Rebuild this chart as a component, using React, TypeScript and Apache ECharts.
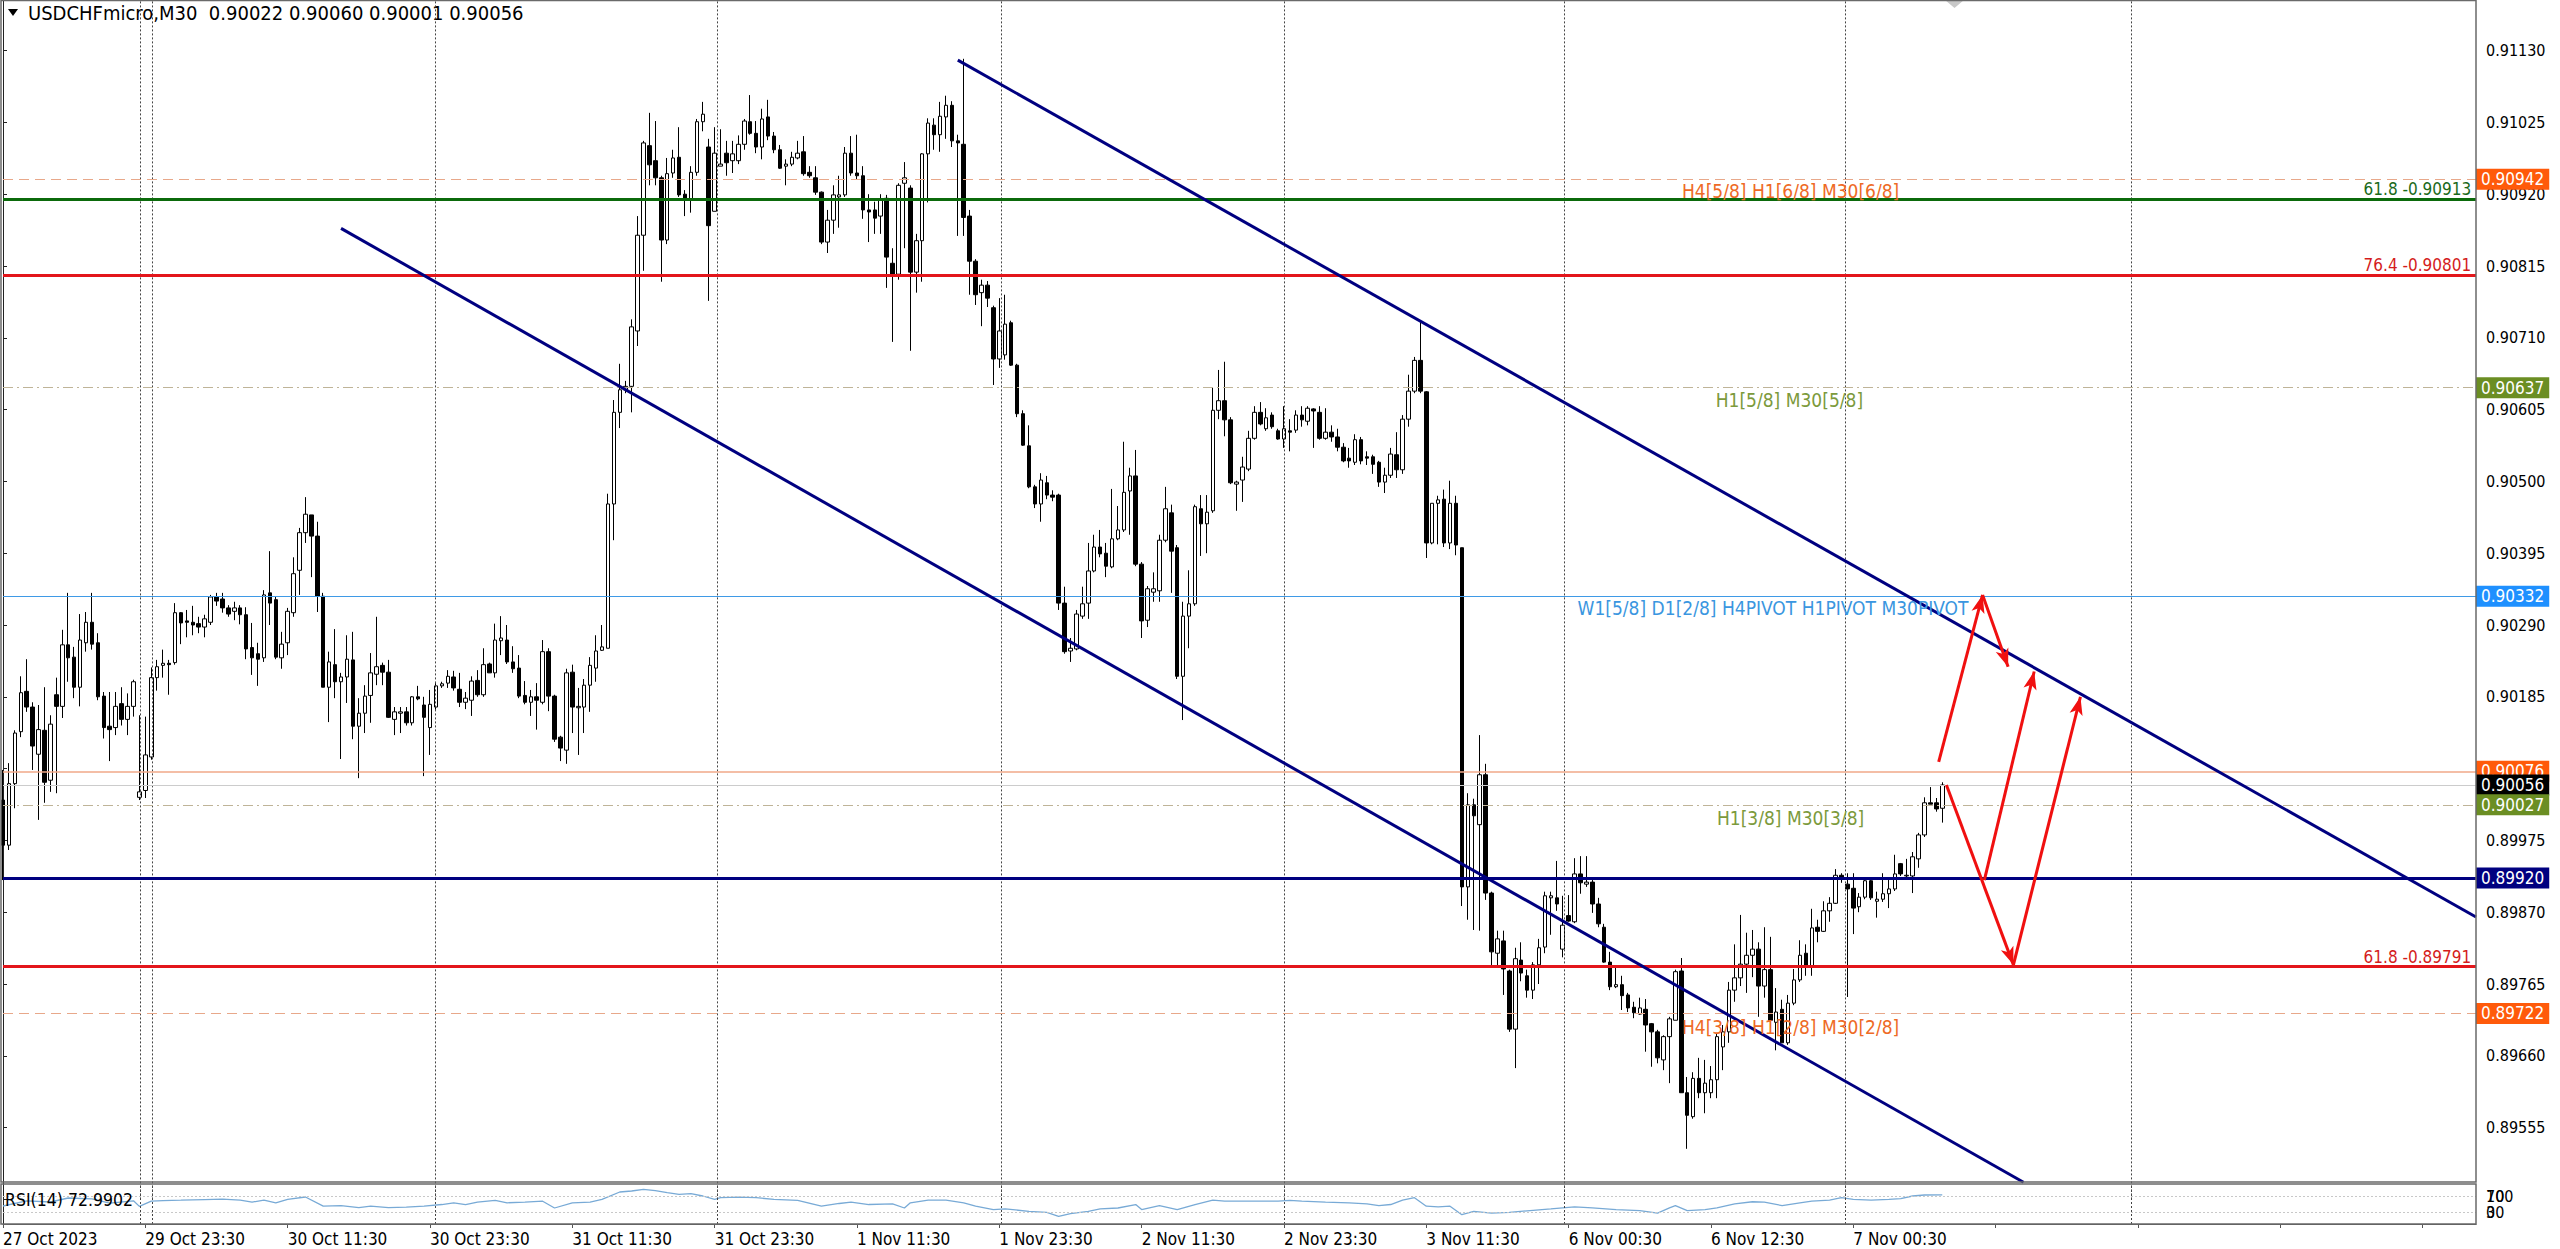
import React, { useEffect, useRef } from 'react';
import * as echarts from 'echarts';

const FONT = "'DejaVu Sans Condensed', 'DejaVu Sans', sans-serif";

// ---------- DATA ----------
const opens = [
0.90034,0.89968,0.90058,0.90134,0.90193,0.90170,0.90101,0.90136,0.90063,0.90188,
0.90171,0.90261,0.90243,0.90199,0.90264,0.90294,0.90264,0.90186,0.90142,0.90140,
0.90175,0.90152,0.90171,0.90038,0.90048,0.90097,0.90213,0.90231,0.90234,0.90235,
0.90308,0.90296,0.90294,0.90292,0.90287,0.90294,0.90331,0.90328,0.90315,0.90310,
0.90315,0.90305,0.90257,0.90248,0.90242,0.90337,0.90327,0.90242,0.90264,0.90308,
0.90370,0.90425,0.90451,0.90420,0.90332,0.90199,0.90232,0.90207,0.90214,0.90239,
0.90142,0.90161,0.90187,0.90218,0.90231,0.90221,0.90152,0.90161,0.90163,0.90147,
0.90185,0.90173,0.90140,0.90170,0.90201,0.90205,0.90214,0.90196,0.90177,0.90180,
0.90209,0.90188,0.90233,0.90220,0.90267,0.90268,0.90236,0.90227,0.90187,0.90177,
0.90185,0.90177,0.90251,0.90186,0.90126,0.90107,0.90221,0.90169,0.90170,0.90202,
0.90227,0.90253,0.90256,0.90467,0.90601,0.90634,0.90639,0.90720,0.90860,0.90991,
0.90969,0.90944,0.90853,0.90951,0.90974,0.90920,0.90912,0.90952,0.91026,0.90989,
0.90895,0.90961,0.90980,0.90969,0.90969,0.90993,0.91026,0.91009,0.90989,0.91033,
0.91005,0.90985,0.90961,0.90964,0.90973,0.90982,0.90952,0.90944,0.90923,0.90850,
0.90882,0.90916,0.90919,0.90980,0.90951,0.90947,0.90897,0.90897,0.90888,0.90914,
0.90819,0.90803,0.90936,0.90929,0.90806,0.90852,0.90979,0.91021,0.91007,0.91033,
0.91050,0.90998,0.90993,0.90888,0.90822,0.90776,0.90787,0.90754,0.90679,0.90685,
0.90732,0.90670,0.90599,0.90552,0.90492,0.90467,0.90498,0.90480,0.90480,0.90322,
0.90252,0.90255,0.90303,0.90322,0.90369,0.90404,0.90395,0.90375,0.90416,0.90429,
0.90486,0.90508,0.90379,0.90297,0.90338,0.90340,0.90414,0.90454,0.90403,0.90215,
0.90303,0.90321,0.90460,0.90438,0.90457,0.90604,0.90618,0.90590,0.90496,0.90502,
0.90518,0.90563,0.90601,0.90577,0.90597,0.90574,0.90562,0.90574,0.90575,0.90597,
0.90588,0.90606,0.90601,0.90563,0.90572,0.90565,0.90550,0.90534,0.90528,0.90561,
0.90536,0.90536,0.90528,0.90499,0.90509,0.90539,0.90517,0.90591,0.90632,0.90677,
0.90631,0.90410,0.90468,0.90474,0.90410,0.90468,0.90403,0.89907,0.90027,0.89998,
0.90071,0.89898,0.89810,0.89828,0.89784,0.89699,0.89800,0.89777,0.89756,0.89793,
0.89819,0.89891,0.89891,0.89816,0.89865,0.89856,0.89926,0.89911,0.89914,0.89882,
0.89848,0.89797,0.89761,0.89764,0.89749,0.89731,0.89721,0.89728,0.89707,0.89695,
0.89654,0.89688,0.89712,0.89784,0.89606,0.89571,0.89627,0.89606,0.89606,0.89625,
0.89673,0.89695,0.89756,0.89774,0.89794,0.89807,0.89816,0.89762,0.89786,0.89709,
0.89728,0.89679,0.89737,0.89771,0.89810,0.89790,0.89848,0.89842,0.89872,0.89883,
0.89924,0.89911,0.89905,0.89878,0.89892,0.89916,0.89886,0.89889,0.89897,0.89904,
0.89941,0.89923,0.89923,0.89948,0.89983,0.90030,0.90030,0.90022];

const highs = [
0.90078,0.90088,0.90136,0.90215,0.90240,0.90177,0.90173,0.90199,0.90158,0.90213,
0.90283,0.90337,0.90258,0.90306,0.90309,0.90337,0.90278,0.90192,0.90192,0.90192,
0.90199,0.90190,0.90210,0.90158,0.90156,0.90228,0.90239,0.90254,0.90239,0.90322,
0.90309,0.90312,0.90318,0.90302,0.90305,0.90334,0.90337,0.90337,0.90319,0.90324,
0.90319,0.90316,0.90293,0.90264,0.90341,0.90398,0.90331,0.90280,0.90315,0.90389,
0.90432,0.90477,0.90451,0.90441,0.90337,0.90251,0.90284,0.90220,0.90275,0.90280,
0.90183,0.90202,0.90249,0.90302,0.90235,0.90239,0.90170,0.90170,0.90170,0.90186,
0.90201,0.90185,0.90195,0.90205,0.90207,0.90224,0.90223,0.90220,0.90192,0.90215,
0.90224,0.90256,0.90235,0.90292,0.90303,0.90290,0.90259,0.90246,0.90208,0.90195,
0.90205,0.90268,0.90256,0.90188,0.90128,0.90226,0.90232,0.90198,0.90211,0.90243,
0.90275,0.90290,0.90482,0.90619,0.90672,0.90647,0.90737,0.90888,0.90998,0.91039,
0.91027,0.90947,0.90973,0.90985,0.91018,0.90926,0.90961,0.91030,0.91055,0.91001,
0.91018,0.91015,0.90998,0.90998,0.91006,0.91030,0.91065,0.91027,0.91045,0.91058,
0.91011,0.90992,0.90971,0.90982,0.90998,0.91005,0.90961,0.90961,0.90924,0.90897,
0.90933,0.90947,0.90989,0.91005,0.91007,0.90961,0.90920,0.90909,0.90920,0.90919,
0.90841,0.90936,0.90967,0.90933,0.90862,0.90980,0.91031,0.91031,0.91055,0.91064,
0.91056,0.91007,0.91118,0.90897,0.90825,0.90795,0.90793,0.90757,0.90768,0.90773,
0.90735,0.90672,0.90604,0.90582,0.90495,0.90512,0.90508,0.90487,0.90482,0.90346,
0.90271,0.90312,0.90346,0.90410,0.90422,0.90429,0.90410,0.90489,0.90464,0.90558,
0.90520,0.90546,0.90382,0.90347,0.90367,0.90422,0.90492,0.90466,0.90407,0.90324,
0.90370,0.90466,0.90480,0.90480,0.90638,0.90663,0.90675,0.90594,0.90501,0.90536,
0.90574,0.90610,0.90616,0.90607,0.90601,0.90577,0.90610,0.90591,0.90604,0.90610,
0.90610,0.90607,0.90610,0.90607,0.90582,0.90577,0.90556,0.90549,0.90569,0.90565,
0.90544,0.90539,0.90530,0.90520,0.90549,0.90572,0.90597,0.90656,0.90682,0.90733,
0.90632,0.90468,0.90479,0.90488,0.90501,0.90479,0.90403,0.90044,0.90036,0.90129,
0.90087,0.89900,0.89843,0.89843,0.89786,0.89818,0.89826,0.89786,0.89797,0.89831,
0.89900,0.89900,0.89945,0.89894,0.89895,0.89949,0.89952,0.89952,0.89917,0.89891,
0.89853,0.89812,0.89790,0.89777,0.89752,0.89739,0.89745,0.89743,0.89708,0.89698,
0.89690,0.89717,0.89786,0.89803,0.89629,0.89636,0.89657,0.89654,0.89645,0.89693,
0.89705,0.89768,0.89823,0.89866,0.89840,0.89844,0.89826,0.89848,0.89834,0.89759,
0.89742,0.89749,0.89787,0.89829,0.89823,0.89875,0.89859,0.89886,0.89892,0.89933,
0.89927,0.89927,0.89927,0.89898,0.89917,0.89919,0.89900,0.89927,0.89920,0.89954,
0.89942,0.89948,0.89958,0.89986,0.90038,0.90053,0.90037,0.90060];

const lows = [
0.89917,0.89961,0.90022,0.90126,0.90163,0.90078,0.90005,0.90030,0.90046,0.90044,
0.90154,0.90207,0.90183,0.90171,0.90251,0.90254,0.90180,0.90124,0.90091,0.90129,
0.90143,0.90129,0.90156,0.90034,0.90037,0.90093,0.90194,0.90213,0.90188,0.90232,
0.90262,0.90272,0.90275,0.90278,0.90272,0.90290,0.90318,0.90308,0.90302,0.90297,
0.90291,0.90240,0.90217,0.90201,0.90236,0.90290,0.90240,0.90226,0.90246,0.90302,
0.90334,0.90410,0.90360,0.90309,0.90199,0.90148,0.90183,0.90094,0.90176,0.90123,
0.90066,0.90132,0.90147,0.90202,0.90202,0.90154,0.90129,0.90132,0.90143,0.90143,
0.90180,0.90069,0.90100,0.90166,0.90198,0.90198,0.90194,0.90170,0.90167,0.90157,
0.90185,0.90185,0.90220,0.90213,0.90246,0.90233,0.90220,0.90183,0.90174,0.90157,
0.90137,0.90174,0.90164,0.90119,0.90091,0.90087,0.90132,0.90100,0.90132,0.90163,
0.90207,0.90252,0.90256,0.90414,0.90578,0.90629,0.90601,0.90698,0.90808,0.90933,
0.90933,0.90792,0.90847,0.90944,0.90916,0.90888,0.90893,0.90947,0.91012,0.90764,
0.90895,0.90961,0.90947,0.90951,0.90964,0.90985,0.91007,0.90980,0.90971,0.90999,
0.90980,0.90957,0.90933,0.90961,0.90971,0.90947,0.90944,0.90919,0.90847,0.90834,
0.90862,0.90871,0.90916,0.90947,0.90941,0.90884,0.90850,0.90862,0.90862,0.90783,
0.90704,0.90795,0.90841,0.90691,0.90776,0.90792,0.90908,0.90985,0.90982,0.91001,
0.90989,0.90859,0.90859,0.90773,0.90758,0.90727,0.90755,0.90641,0.90666,0.90678,
0.90669,0.90594,0.90552,0.90490,0.90461,0.90441,0.90474,0.90471,0.90312,0.90248,
0.90236,0.90253,0.90299,0.90299,0.90367,0.90389,0.90360,0.90373,0.90414,0.90426,
0.90422,0.90376,0.90271,0.90287,0.90324,0.90324,0.90411,0.90337,0.90211,0.90151,
0.90256,0.90318,0.90391,0.90395,0.90454,0.90591,0.90566,0.90496,0.90457,0.90470,
0.90515,0.90561,0.90582,0.90574,0.90577,0.90561,0.90549,0.90544,0.90571,0.90580,
0.90582,0.90549,0.90561,0.90561,0.90558,0.90544,0.90528,0.90520,0.90524,0.90525,
0.90524,0.90511,0.90492,0.90483,0.90505,0.90505,0.90511,0.90580,0.90629,0.90629,
0.90388,0.90408,0.90408,0.90404,0.90401,0.90392,0.89879,0.89859,0.89844,0.89843,
0.89888,0.89791,0.89791,0.89749,0.89695,0.89642,0.89769,0.89745,0.89743,0.89765,
0.89810,0.89837,0.89872,0.89804,0.89856,0.89854,0.89897,0.89907,0.89869,0.89848,
0.89796,0.89756,0.89759,0.89727,0.89724,0.89715,0.89720,0.89666,0.89644,0.89649,
0.89639,0.89620,0.89712,0.89606,0.89524,0.89568,0.89598,0.89576,0.89598,0.89598,
0.89639,0.89679,0.89739,0.89762,0.89752,0.89775,0.89717,0.89745,0.89701,0.89668,
0.89679,0.89676,0.89734,0.89768,0.89777,0.89777,0.89826,0.89841,0.89856,0.89882,
0.89913,0.89746,0.89838,0.89870,0.89889,0.89888,0.89862,0.89885,0.89876,0.89901,
0.89923,0.89919,0.89898,0.89935,0.89980,0.90028,0.90017,0.90001];

const closes = [
0.89968,0.90058,0.90132,0.90191,0.90170,0.90113,0.90137,0.90060,0.90145,0.90171,
0.90261,0.90242,0.90199,0.90268,0.90294,0.90262,0.90185,0.90140,0.90137,0.90171,
0.90152,0.90171,0.90207,0.90046,0.90100,0.90213,0.90229,0.90234,0.90232,0.90308,
0.90293,0.90294,0.90290,0.90287,0.90299,0.90331,0.90325,0.90315,0.90306,0.90315,
0.90305,0.90255,0.90242,0.90240,0.90334,0.90322,0.90243,0.90262,0.90310,0.90365,
0.90425,0.90452,0.90420,0.90332,0.90199,0.90236,0.90207,0.90214,0.90240,0.90142,
0.90161,0.90186,0.90220,0.90229,0.90221,0.90155,0.90163,0.90163,0.90147,0.90185,
0.90182,0.90155,0.90174,0.90201,0.90204,0.90215,0.90198,0.90177,0.90183,0.90208,
0.90188,0.90232,0.90220,0.90268,0.90271,0.90236,0.90226,0.90186,0.90177,0.90185,
0.90180,0.90251,0.90186,0.90123,0.90110,0.90220,0.90170,0.90171,0.90202,0.90231,
0.90252,0.90258,0.90467,0.90601,0.90634,0.90639,0.90726,0.90860,0.90995,0.90963,
0.90944,0.90853,0.90950,0.90973,0.90919,0.90912,0.90952,0.91026,0.91037,0.90874,
0.90980,0.90964,0.90966,0.90979,0.90993,0.91027,0.91009,0.90989,0.91030,0.91005,
0.90985,0.90958,0.90964,0.90974,0.90980,0.90950,0.90947,0.90923,0.90850,0.90882,
0.90919,0.90919,0.90980,0.90951,0.90947,0.90897,0.90894,0.90885,0.90913,0.90828,
0.90803,0.90933,0.90944,0.90806,0.90852,0.90979,0.91024,0.91007,0.91034,0.91050,
0.90998,0.90995,0.90886,0.90822,0.90773,0.90787,0.90768,0.90679,0.90720,0.90730,
0.90670,0.90599,0.90553,0.90492,0.90467,0.90502,0.90480,0.90477,0.90322,0.90251,
0.90256,0.90306,0.90321,0.90369,0.90404,0.90394,0.90376,0.90416,0.90429,0.90484,
0.90508,0.90379,0.90296,0.90343,0.90343,0.90414,0.90460,0.90398,0.90215,0.90303,
0.90321,0.90463,0.90438,0.90455,0.90604,0.90618,0.90590,0.90498,0.90499,0.90521,
0.90563,0.90601,0.90584,0.90593,0.90580,0.90562,0.90577,0.90572,0.90597,0.90590,
0.90607,0.90603,0.90563,0.90572,0.90565,0.90550,0.90530,0.90530,0.90561,0.90530,
0.90534,0.90525,0.90499,0.90509,0.90540,0.90517,0.90591,0.90632,0.90677,0.90632,
0.90410,0.90468,0.90473,0.90410,0.90468,0.90407,0.89907,0.90027,0.90011,0.90071,
0.89898,0.89812,0.89831,0.89787,0.89699,0.89802,0.89781,0.89756,0.89793,0.89818,
0.89894,0.89894,0.89882,0.89851,0.89857,0.89926,0.89913,0.89914,0.89882,0.89853,
0.89797,0.89761,0.89764,0.89748,0.89730,0.89723,0.89730,0.89705,0.89695,0.89657,
0.89688,0.89714,0.89783,0.89606,0.89573,0.89627,0.89606,0.89620,0.89625,0.89688,
0.89695,0.89756,0.89774,0.89794,0.89807,0.89816,0.89762,0.89786,0.89712,0.89724,
0.89679,0.89737,0.89771,0.89807,0.89791,0.89847,0.89842,0.89872,0.89883,0.89924,
0.89921,0.89904,0.89876,0.89892,0.89916,0.89891,0.89889,0.89897,0.89904,0.89926,
0.89926,0.89924,0.89951,0.89983,0.90030,0.90028,0.90021,0.90056];

const xTickIdx = [0, 24, 48, 72, 96, 120, 144, 168, 192, 216, 240, 264, 288, 312];
const xTickText = ['27 Oct 2023', '29 Oct 23:30', '30 Oct 11:30', '30 Oct 23:30', '31 Oct 11:30',
  '31 Oct 23:30', '1 Nov 11:30', '1 Nov 23:30', '2 Nov 11:30', '2 Nov 23:30', '3 Nov 11:30',
  '6 Nov 00:30', '6 Nov 12:30', '7 Nov 00:30'];

const gridX = [23.2, 25.1, 72.95, 120.5, 168.4, 216.1, 263.2, 310.7, 358.8];

const rsiIdx = [0,4,8,11,15,18,22,23,25,27,30,34,37,40,42,44,46,48,51,54,57,60,62,65,68,71,74,76,78,80,
  83,85,88,91,93,96,99,101,104,106,108,110,112,114,116,118,120,121,124,127,130,134,138,141,143,146,150,152,153,156,
  159,162,164,167,169,173,176,178,180,183,185,188,191,192,195,198,201,204,206,209,212,215,217,219,223,227,230,232,234,236,
  238,240,242,244,246,248,251,254,258,261,263,265,268,272,276,279,281,282,284,287,289,292,295,297,300,303,305,308,310,312,
  315,318,320,322,324,327];
const rsiVal = [45,58,55,65,63,52,58,44,57,58.6,59.5,61,62,59.5,54.7,59.8,53,61.5,67.5,44.5,46,41,44.5,41,42,44.5,48.7,53,48.7,54.7,
  59,53,54.7,57,40,53,54.7,61.5,80,82.5,86.8,83.4,78.3,74,75.7,70,61.5,65.7,67.4,65.7,61.5,59,44.5,51.3,54.7,48.7,50.4,40,53,59.8,
  59.8,53,44.5,36,37.7,31.7,29,19,26,31.7,37.7,40,48.7,36,46,36,48.7,59.8,57,57,57,57,59,57,54.7,53,50.4,46,48.7,59.8,
  65.7,44.5,42.8,44.5,23.2,31.7,27.4,29,34.3,37.7,40.4,42.8,40.4,36,33.4,27.4,40.4,46,33.4,36,40.4,50.4,55.6,54.7,46,53,57,59.8,65.7,61.5,
  59.8,61.5,63.2,70,72.5,72.99];

const levelPrices = [0.90942, 0.90913, 0.90801, 0.90637, 0.90332, 0.90076, 0.90056, 0.90027, 0.89920, 0.89791, 0.89722];

const channelLines = [
  [[161.0, 0.91116], [417, 0.89863]],
  [[57.0, 0.90870], [340.7, 0.89475]],
];
const arrowLines = [
  [[326.4, 0.90090], [333.8, 0.90334]],
  [[333.8, 0.90334], [338.1, 0.90229]],
  [[327.7, 0.90056], [339.0, 0.89793]],
  [[334.1, 0.89917], [342.5, 0.90222]],
  [[339.0, 0.89793], [350.3, 0.90185]],
];

const annotTexts = ['H4[5/8] H1[6/8] M30[6/8]', '61.8 -0.90913', '76.4 -0.90801', 'H1[5/8] M30[5/8]',
  'W1[5/8] D1[2/8] H4PIVOT H1PIVOT M30PIVOT', 'H1[3/8] M30[3/8]', '61.8 -0.89791', 'H4[3/8] H1[2/8] M30[2/8]'];
const annotAnchor = [[283.1, 0.90925], [416.2, 0.90928], [416.2, 0.90817], [288.8, 0.90619],
  [265.5, 0.90315], [289.0, 0.90008], [416.2, 0.89805], [283.1, 0.89702]];

const titleText = 'USDCHFmicro,M30  0.90022 0.90060 0.90001 0.90056';
const rsiTitle = 'RSI(14) 72.9902';

// ---------- STYLES ----------
const ORANGE_BOX = '#ff5a0a';
const OLIVE_BOX = '#6b8e23';
const LEVEL_STYLE = [
  { color: '#e8a88a', width: 1, type: [10, 6], box: ORANGE_BOX },
  { color: '#0b6a0b', width: 3, type: 'solid', box: null },
  { color: '#e3161b', width: 3, type: 'solid', box: null },
  { color: '#bfb498', width: 1, type: [10, 4, 2, 4], box: OLIVE_BOX },
  { color: '#3f9ae6', width: 1.2, type: 'solid', box: '#1e90ff' },
  { color: '#f0a888', width: 1.5, type: 'solid', box: ORANGE_BOX },
  { color: '#cccccc', width: 1, type: 'solid', box: '#000000' },
  { color: '#bfb498', width: 1, type: [10, 4, 2, 4], box: OLIVE_BOX },
  { color: '#000080', width: 3, type: 'solid', box: '#000080' },
  { color: '#e3161b', width: 3, type: 'solid', box: null },
  { color: '#e8a88a', width: 1, type: [10, 6], box: ORANGE_BOX },
];
const ANNOT_STYLE = [
  { color: '#ee6a26', size: 19, align: 'left' },
  { color: '#1a6a1a', size: 17, align: 'right' },
  { color: '#d41c1c', size: 17, align: 'right' },
  { color: '#7c9a3c', size: 19, align: 'left' },
  { color: '#3a96e0', size: 19, align: 'left' },
  { color: '#7c9a3c', size: 19, align: 'left' },
  { color: '#d41c1c', size: 17, align: 'right' },
  { color: '#ee6a26', size: 19, align: 'left' },
];

export default function App() {
  const ref = useRef<HTMLDivElement>(null);

  useEffect(() => {
    if (!ref.current) return;
    const chart = echarts.init(ref.current, null, { renderer: 'svg' });

    const candleData = opens.map((o, i) => [i, o, closes[i], lows[i], highs[i]]);
    const rsiData = rsiIdx.map((x, k) => [x, rsiVal[k]]);
    const tickMap: Record<number, string> = {};
    xTickIdx.forEach((x, k) => { tickMap[x] = xTickText[k]; });

    const option: any = {
      animation: false,
      backgroundColor: '#ffffff',
      grid: [
        { left: 3, right: 84, top: 0, height: 1199.4, containLabel: false, outerBoundsMode: 'none' },
        { left: 3, right: 84, top: 1184, height: 40, containLabel: false, outerBoundsMode: 'none' },
      ],
      xAxis: [
        { type: 'value', gridIndex: 0, min: 0, max: 417, show: false, splitLine: { show: false } },
        {
          type: 'value', gridIndex: 1, min: 0, max: 417, interval: 24,
          axisLine: { show: true, lineStyle: { color: '#555', width: 1 } },
          axisTick: { show: true, length: 4, lineStyle: { color: '#555' } },
          splitLine: { show: false },
          axisLabel: {
            show: true, align: 'left', margin: 6, color: '#000', fontFamily: FONT, fontSize: 17,
            showMaxLabel: false, showMinLabel: true,
            formatter: (v: number) => tickMap[Math.round(v)] ?? '',
          },
        },
      ],
      yAxis: [
        {
          type: 'value', gridIndex: 0, position: 'right', min: 0.8945, max: 0.91204, interval: 0.00105,
          axisLine: { show: true, lineStyle: { color: '#222', width: 1 } },
          axisTick: { show: true, length: 4, lineStyle: { color: '#222' } },
          splitLine: { show: false },
          axisLabel: {
            show: true, margin: 10, color: '#000', fontFamily: FONT, fontSize: 16,
            showMaxLabel: false,
            formatter: (v: number) => (v < 0.8950 ? '' : v.toFixed(5)),
          },
        },
        {
          type: 'value', gridIndex: 1, position: 'right', min: 0, max: 100, interval: 10,
          axisLine: { show: true, lineStyle: { color: '#222', width: 1 } },
          axisTick: { show: false },
          splitLine: { show: false },
          axisLabel: {
            show: true, margin: 10, color: '#000', fontFamily: FONT, fontSize: 16,
            showMaxLabel: false, showMinLabel: false,
            formatter: (v: number) => (Math.round(v) === 70 ? '70' : Math.round(v) === 30 ? '30' : ''),
          },
        },
      ],
      series: [
        {
          type: 'line', xAxisIndex: 0, yAxisIndex: 0, data: [], z: 1, silent: true,
          markLine: {
            silent: true, precision: 6, symbol: ['none', 'none'], label: { show: false },
            lineStyle: { color: '#444', width: 1, type: [2, 2] },
            data: gridX.map((x) => ({ xAxis: x })),
          },
        },
        {
          type: 'candlestick', xAxisIndex: 0, yAxisIndex: 0, z: 2, silent: true,
          dimensions: ['idx', 'open', 'close', 'lowest', 'highest'],
          encode: { x: 'idx', y: ['open', 'close', 'lowest', 'highest'] },
          barWidth: 4,
          itemStyle: { color: '#ffffff', color0: '#000000', borderColor: '#000000', borderColor0: '#000000', borderWidth: 1 },
          data: candleData,
        },
        {
          type: 'line', xAxisIndex: 0, yAxisIndex: 0, data: [], z: 3, silent: true,
          markLine: {
            silent: true, precision: 6, symbol: ['none', 'none'],
            data: levelPrices.map((p, k) => {
              const s = LEVEL_STYLE[k];
              return {
                yAxis: p,
                lineStyle: { color: s.color, width: s.width, type: s.type },
                label: s.box ? {
                  show: true, position: 'end', distance: 0, formatter: p.toFixed(5),
                  backgroundColor: s.box, color: '#ffffff', padding: [2, 5, 1, 5],
                  fontFamily: FONT, fontSize: 17, lineHeight: 18,
                } : { show: false },
              };
            }),
          },
        },
        {
          type: 'line', xAxisIndex: 0, yAxisIndex: 0, data: [], z: 4, silent: true,
          markLine: {
            silent: true, precision: 6, symbol: ['none', 'none'], label: { show: false },
            lineStyle: { color: '#000080', width: 3, type: 'solid' },
            data: channelLines.map(([a, b]) => [{ coord: a }, { coord: b }]),
          },
        },
        {
          type: 'line', xAxisIndex: 0, yAxisIndex: 0, data: [], z: 5, silent: true,
          markLine: {
            silent: true, precision: 6, symbol: ['none', 'arrow'], symbolSize: [10, 18], label: { show: false },
            lineStyle: { color: '#f01010', width: 3, type: 'solid' },
            data: arrowLines.map(([a, b]) => [{ coord: a }, { coord: b }]),
          },
        },
        {
          type: 'line', xAxisIndex: 1, yAxisIndex: 1, data: rsiData, z: 3, silent: true,
          showSymbol: false, symbol: 'none',
          lineStyle: { color: '#78aad6', width: 1.3 },
          markLine: {
            silent: true, precision: 6, symbol: ['none', 'none'], label: { show: false },
            data: [
              { yAxis: 70, lineStyle: { color: '#c8c8c8', width: 1, type: [2, 2] } },
              { yAxis: 30, lineStyle: { color: '#c8c8c8', width: 1, type: [2, 2] } },
              ...gridX.map((x) => ({ xAxis: x, lineStyle: { color: '#444', width: 1, type: [2, 2] } })),
            ],
          },
        },
      ],
    };
    chart.setOption(option);

    const graphics: any[] = [];
    annotTexts.forEach((t, k) => {
      const [px, py] = chart.convertToPixel({ xAxisIndex: 0, yAxisIndex: 0 }, annotAnchor[k]) as number[];
      const s = ANNOT_STYLE[k];
      graphics.push({
        type: 'text', x: px, y: py, z: 10, silent: true,
        style: { text: t, fill: s.color, fontFamily: FONT, fontSize: s.size, align: s.align, verticalAlign: 'middle' },
      });
    });
    const [rx70, ry70] = chart.convertToPixel({ xAxisIndex: 1, yAxisIndex: 1 }, [417, 70]) as number[];
    const [, ry30] = chart.convertToPixel({ xAxisIndex: 1, yAxisIndex: 1 }, [417, 30]) as number[];
    graphics.push({ type: 'text', x: rx70 + 10, y: ry70, silent: true,
      style: { text: '100', fill: '#000', fontFamily: FONT, fontSize: 16, align: 'left', verticalAlign: 'middle' } });
    graphics.push({ type: 'text', x: rx70 + 10, y: ry30, silent: true,
      style: { text: '0', fill: '#000', fontFamily: FONT, fontSize: 16, align: 'left', verticalAlign: 'middle' } });
    // title
    graphics.push({ type: 'polygon', silent: true, shape: { points: [[8, 9], [18, 9], [13, 16]] }, style: { fill: '#000' } });
    graphics.push({ type: 'text', x: 28, y: 13, silent: true,
      style: { text: titleText, fill: '#000', fontFamily: FONT, fontSize: 20, align: 'left', verticalAlign: 'middle' } });
    graphics.push({ type: 'text', x: 5, y: 1200, silent: true, z: 10,
      style: { text: rsiTitle, fill: '#000', fontFamily: FONT, fontSize: 17.5, align: 'left', verticalAlign: 'middle' } });
    // shift marker
    graphics.push({ type: 'polygon', silent: true, shape: { points: [[1945, 0], [1964, 0], [1954.5, 8]] }, style: { fill: '#c8c8c8' } });
    // panel frames
    graphics.push({ type: 'rect', silent: true, z: 20, shape: { x: 1, y: 0.5, width: 2475, height: 1181.5 },
      style: { fill: 'none', stroke: '#6a6a6a', lineWidth: 1.5 } });
    graphics.push({ type: 'rect', silent: true, z: 20, shape: { x: 1, y: 1184, width: 2475, height: 40 },
      style: { fill: 'none', stroke: '#6a6a6a', lineWidth: 1.5 } });
    chart.setOption({ graphic: graphics });

    return () => chart.dispose();
  }, []);

  return (
    <div
      ref={ref}
      style={{ position: 'fixed', left: 0, top: 0, width: 2560, height: 1249, background: '#ffffff' }}
    />
  );
}
